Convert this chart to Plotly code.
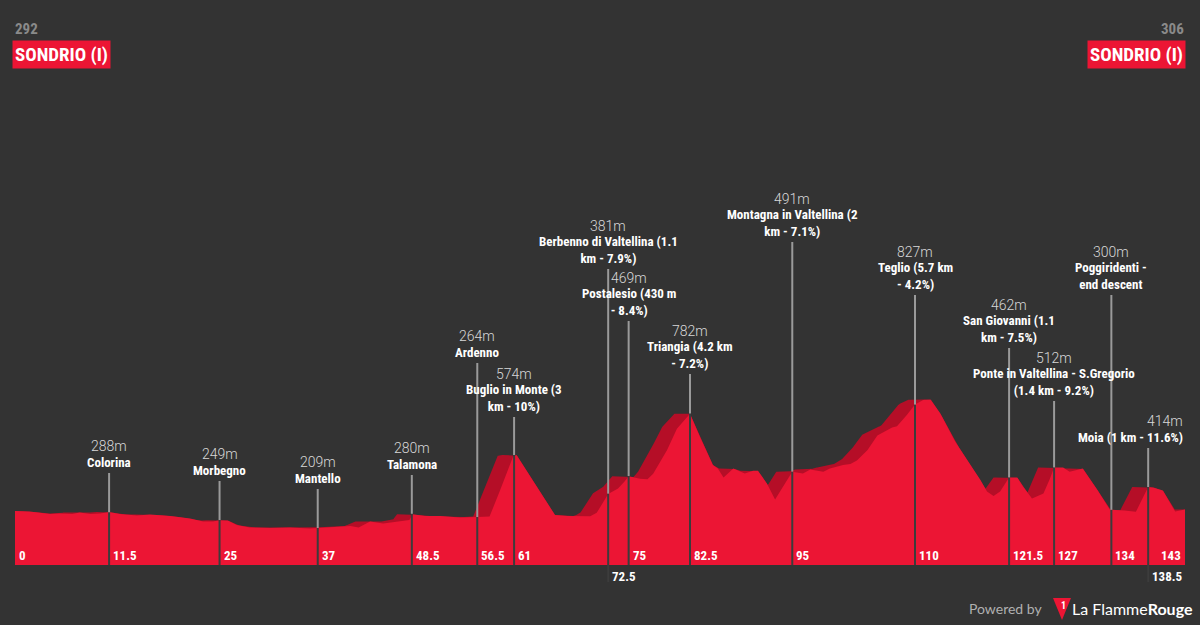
import numpy as np
import plotly.graph_objects as go

# ---------------- data ----------------
KM = [0, 1.8, 4.3, 5.5, 7.0, 7.9, 9.2, 10.4, 11.5, 12.8, 14.9, 16.5, 19.0, 21.4, 23.0,
      24.2, 25.0, 26.0, 27.1, 28.7, 31.2, 33.6, 36.0, 37.0, 38.9, 41.0, 42.0, 43.4,
      45.0, 46.7, 48.2, 48.6, 50.1, 52.0, 54.4, 56.5, 58.0, 59.3, 60.9, 61.3, 63.0,
      65.0, 66.0, 67.5, 69.4, 70.3, 71.1, 72.0, 72.5, 73.7, 74.5, 75.0, 76.4, 77.3,
      78.0, 79.7, 80.9, 82.5, 83.7, 85.3, 85.9, 86.6, 87.8, 89.2, 90.2, 90.8, 91.9,
      92.9, 93.9, 95.0, 96.3, 97.2, 98.8, 99.6, 101.2, 102.1, 102.9, 104.2, 105.4,
      106.3, 107.2, 107.8, 109.0, 110.0, 111.0, 111.9, 113.1, 114.9, 116.4, 118.0,
      118.8, 119.6, 120.4, 121.5, 122.5, 123.2, 124.3, 125.7, 126.5, 127.0, 128.1,
      128.9, 130.5, 132.3, 133.8, 134.0, 135.6, 137.0, 138.5, 139.1, 140.3, 141.8, 143.0]
ELEV = [294, 292, 279, 282, 279, 286, 279, 282, 289, 279, 272, 276, 269, 257, 241,
        241, 248, 247, 224, 212, 209, 212, 207, 209, 212, 219, 212, 241,
        232, 241, 249, 278, 269, 269, 262, 264, 266, 399, 569, 574, 466,
        332, 274, 269, 269, 268, 285, 345, 379, 407, 441, 468, 455, 453,
        480, 599, 705, 780, 666, 524, 507, 462, 507, 482, 495, 495, 432,
        352, 416, 490, 482, 502, 490, 507, 524, 529, 546, 599, 672,
        690, 712, 718, 774, 827, 849, 852, 782, 641, 549, 449,
        391, 369, 391, 462, 462, 416, 357, 382, 457, 512, 511,
        490, 507, 399, 302, 300, 297, 290, 414, 412, 396, 291, 302]

POI_KM = [11.5, 25, 37, 48.5, 56.5, 61, 72.5, 75, 82.5, 95, 110, 121.5, 127, 134, 138.5]
POI_ELEV = [288, 249, 209, 280, 264, 574, 381, 469, 782, 491, 827, 462, 512, 300, 414]
POI_NAME = ["Colorina", "Morbegno", "Mantello", "Talamona", "Ardenno",
            "Buglio in Monte (3<br>km - 10%)",
            "Berbenno di Valtellina (1.1<br>km - 7.9%)",
            "Postalesio (430 m<br>- 8.4%)",
            "Triangia (4.2 km<br>- 7.2%)",
            "Montagna in Valtellina (2<br>km - 7.1%)",
            "Teglio (5.7 km<br>- 4.2%)",
            "San Giovanni (1.1<br>km - 7.5%)",
            "Ponte in Valtellina - S.Gregorio<br>(1.4 km - 9.2%)",
            "Poggiridenti -<br>end descent",
            "Moia (1 km - 11.6%)"]

TICK_KM = [0, 11.5, 25, 37, 48.5, 56.5, 61, 72.5, 75, 82.5, 95, 110, 121.5, 127, 134, 138.5, 143]
TICK_TEXT = ["0", "11.5", "25", "37", "48.5", "56.5", "61", "72.5", "75", "82.5", "95",
             "110", "121.5", "127", "134", "138.5", "143"]

START_ELEV, FINISH_ELEV = 292, 306
START_NAME, FINISH_NAME = "SONDRIO (I)", "SONDRIO (I)"

# ---------------- layout params (not data) ----------------
LABEL_TOP = [484, 444, 404, 474, 1034, 764, 1504, 1244, 979, 1639, 1374, 1109, 844, 1374, 609]
LOW_TICKS = [72.5, 138.5]
RIGHT_ALIGNED = ["Moia (1 km - 11.6%)"]

BG = "#333333"
RED = "#ec1534"
DARK_RED = "#b50e27"
NAME_FONT = ("Roboto Condensed, Noto Sans Condensed, Open Sans Condensed, "
             "Liberation Sans Narrow, DejaVu Sans Condensed, sans-serif")
NUM_FONT = "Roboto, Lato, sans-serif"

W, H = 1200, 625
ML, MR, MT, MB = 15, 15, 0, 60
PH = H - MT - MB
Y0 = 24
YPX = 5.0  # metres per pixel
Y1 = Y0 + PH * YPX
XMAX = max(KM)


def py(px_y):
    """pixel y (from top) -> paper y"""
    return (H - MB - px_y) / PH


def px(px_x):
    return (px_x - ML) / (W - ML - MR)


def epaper(e):
    return (e - Y0) / (Y1 - Y0)


# shading layer: forward rolling maximum of the profile
grid = np.round(np.arange(0, XMAX + 1e-9, 0.05), 3)
prof = np.interp(grid, KM, ELEV)
win = int(round(2.0 / 0.05))
shade = np.array([prof[i:i + win + 1].max() for i in range(len(grid))])

fig = go.Figure()
fig.add_trace(go.Scatter(x=grid, y=shade, mode="lines", line=dict(width=0, color=DARK_RED),
                         fill="tozeroy", fillcolor=DARK_RED, hoverinfo="skip", showlegend=False))
fig.add_trace(go.Scatter(x=KM, y=ELEV, mode="lines", line=dict(width=0, color=RED),
                         fill="tozeroy", fillcolor=RED, hoverinfo="skip", showlegend=False))

shapes = []
annotations = []

for k, e, name, top in zip(POI_KM, POI_ELEV, POI_NAME, LABEL_TOP):
    xp = k / XMAX
    bottom = py(582) if k in LOW_TICKS else 0
    shapes.append(dict(type="line", xref="paper", yref="paper", x0=xp, x1=xp,
                       y0=bottom, y1=epaper(e), line=dict(color="#3c3c3c", width=2), layer="above"))
    shapes.append(dict(type="line", xref="paper", yref="paper", x0=xp, x1=xp,
                       y0=epaper(e), y1=epaper(top), line=dict(color="#9a9a9a", width=2), layer="above"))
    nlines = name.count("<br>") + 1
    if name in RIGHT_ALIGNED:
        ax, anchor, align = 1.0, "right", "right"
    else:
        ax, anchor, align = xp, "center", "center"
    annotations.append(dict(x=ax, y=epaper(top), xref="paper", yref="paper", text="<b>" + name + "</b>",
                            showarrow=False, xanchor=anchor, yanchor="bottom", align=align, yshift=1,
                            font=dict(family=NAME_FONT, size=13, color="#ffffff")))
    annotations.append(dict(x=ax, y=epaper(top), xref="paper", yref="paper", text=f"{e}m",
                            showarrow=False, xanchor=anchor, yanchor="bottom", align=align,
                            yshift=1 + nlines * 16,
                            font=dict(family=NUM_FONT, size=14, color="#d8d8d8", weight=300)))

for k, t in zip(TICK_KM, TICK_TEXT):
    xp = k / XMAX
    if k == XMAX:
        anchor, xs = "right", -2
    else:
        anchor, xs = "left", 2
    if k in LOW_TICKS:
        annotations.append(dict(x=xp, y=0, xref="paper", yref="paper", text=f"<b>{t}</b>",
                                showarrow=False, xanchor="left", yanchor="top", xshift=2, yshift=-2,
                                font=dict(family=NAME_FONT, size=13, color="#ffffff")))
    else:
        annotations.append(dict(x=xp, y=0, xref="paper", yref="paper", text=f"<b>{t}</b>",
                                showarrow=False, xanchor=anchor, yanchor="bottom", xshift=xs, yshift=0,
                                font=dict(family=NAME_FONT, size=13, color="#ffffff")))

# start / finish headers
annotations.append(dict(x=px(13), y=py(18), xref="paper", yref="paper", text=f"<b>{START_ELEV}</b>",
                        showarrow=False, xanchor="left", yanchor="top",
                        font=dict(family=NAME_FONT, size=15, color="#8a8a8a")))
annotations.append(dict(x=px(1186), y=py(18), xref="paper", yref="paper", text=f"<b>{FINISH_ELEV}</b>",
                        showarrow=False, xanchor="right", yanchor="top",
                        font=dict(family=NAME_FONT, size=15, color="#8a8a8a")))
annotations.append(dict(x=px(12), y=py(40), xref="paper", yref="paper", text=f"<b>{START_NAME}</b>",
                        showarrow=False, xanchor="left", yanchor="top", bgcolor=RED, borderpad=2,
                        font=dict(family=NAME_FONT, size=19, color="#ffffff")))
annotations.append(dict(x=px(1186), y=py(40), xref="paper", yref="paper", text=f"<b>{FINISH_NAME}</b>",
                        showarrow=False, xanchor="right", yanchor="top", bgcolor=RED, borderpad=2,
                        font=dict(family=NAME_FONT, size=19, color="#ffffff")))

# footer branding
annotations.append(dict(x=px(1044), y=py(608), xref="paper", yref="paper", text="Powered by",
                        showarrow=False, xanchor="right", yanchor="middle",
                        font=dict(family="Lato, sans-serif", size=14, color="#b0b0b0")))
annotations.append(dict(x=px(1195), y=py(608), xref="paper", yref="paper",
                        text="La Flamme<b>Rouge</b>",
                        showarrow=False, xanchor="right", yanchor="middle",
                        font=dict(family="Lato, sans-serif", size=16, color="#ffffff")))
shapes.append(dict(type="path", xref="paper", yref="paper", layer="above",
                   path=f"M {px(1053)} {py(598)} L {px(1071)} {py(598)} L {px(1062)} {py(620)} Z",
                   fillcolor=RED, line=dict(width=0)))
annotations.append(dict(x=px(1062), y=py(605), xref="paper", yref="paper", text="<b>1</b>",
                        showarrow=False, xanchor="center", yanchor="middle", xshift=1,
                        font=dict(family=NAME_FONT, size=10, color="#ffffff")))

fig.update_layout(
    width=W, height=H,
    margin=dict(l=ML, r=MR, t=MT, b=MB, pad=0),
    paper_bgcolor=BG, plot_bgcolor=BG,
    xaxis=dict(range=[0, XMAX], visible=False, fixedrange=True),
    yaxis=dict(range=[Y0, Y1], visible=False, fixedrange=True),
    shapes=shapes, annotations=annotations, showlegend=False,
)

fig.write_html("out.html")
